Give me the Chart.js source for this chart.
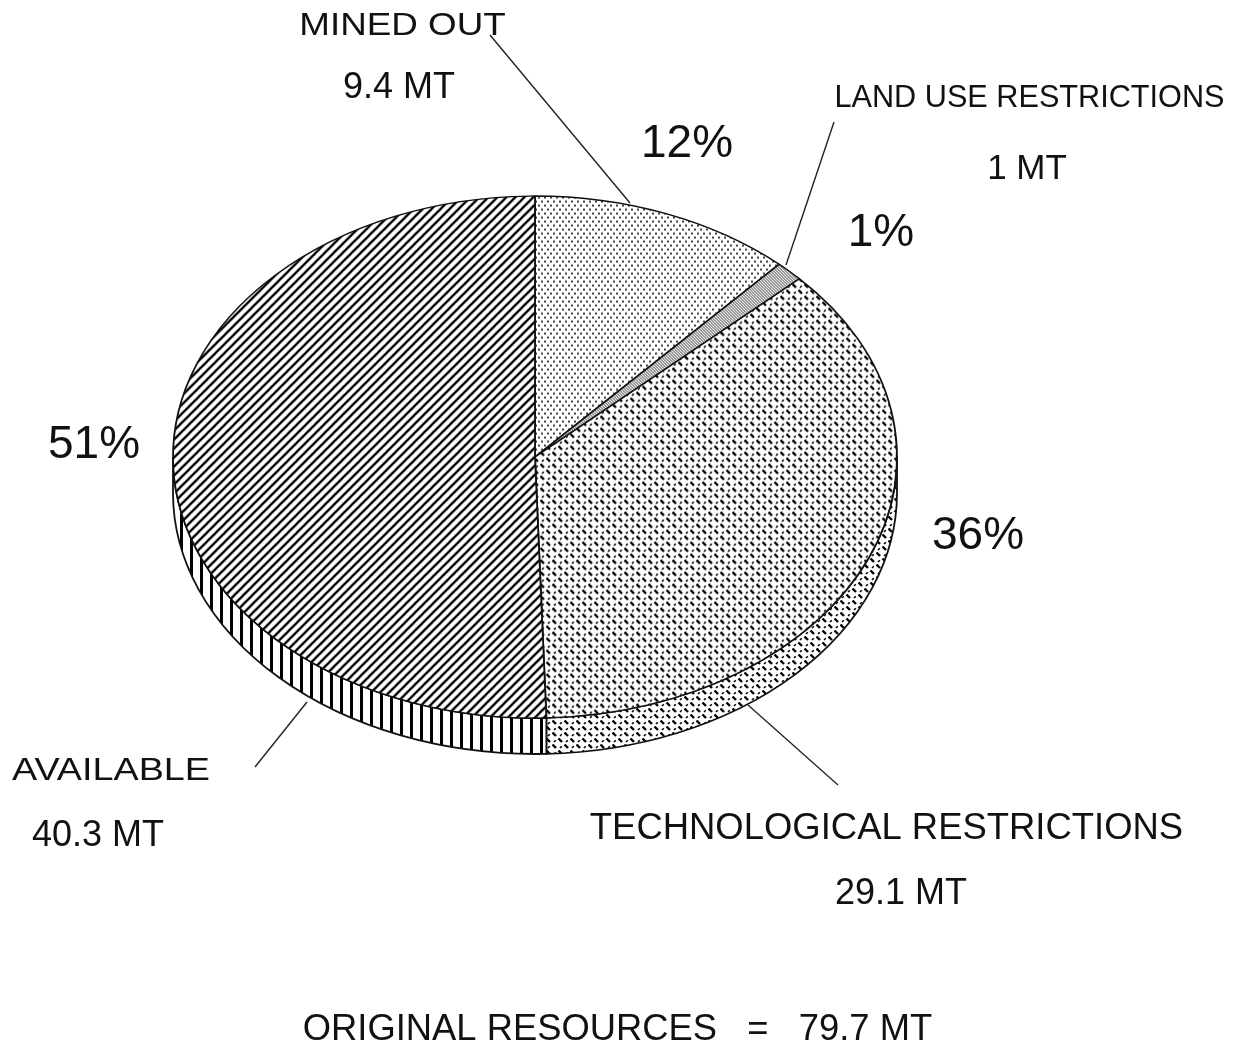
<!DOCTYPE html>
<html>
<head>
<meta charset="utf-8">
<style>html,body{margin:0;padding:0;background:#fff}canvas{display:block}</style>
<script src="https://cdn.jsdelivr.net/npm/chart.js@4"></script>
</head>
<body>
<div style="width:1234px;height:1045px"><canvas id="c" width="1234" height="1045"></canvas></div>
<script>
const categories = ["MINED OUT", "LAND USE RESTRICTIONS", "TECHNOLOGICAL RESTRICTIONS", "AVAILABLE"];
const valuesMT = [9.4, 1, 29.1, 40.3];
const amountLabels = ["9.4 MT", "1 MT", "29.1 MT", "40.3 MT"];
const percentLabels = ["12%", "1%", "36%", "51%"];
const footerText = "ORIGINAL RESOURCES   =   79.7 MT";

const squash = 0.721, radius = 362, depth = 36;
const ink = "#111";

function tile(w, h, draw) {
  const t = document.createElement("canvas"); t.width = w; t.height = h;
  const g = t.getContext("2d"); g.fillStyle = "#fff"; g.fillRect(0, 0, w, h);
  g.fillStyle = "#000"; g.strokeStyle = "#000"; draw(g);
  return t;
}
const ctx0 = document.getElementById("c").getContext("2d");
function pat(t, comp) {
  const p = ctx0.createPattern(t, "repeat");
  if (comp) p.setTransform(new DOMMatrix().scale(1, 1 / squash));
  return p;
}
const dotsTile = tile(6, 8, g => {
  g.fillStyle = "#444";
  g.fillRect(1, 1, 2, 2); g.fillRect(4, 5, 2, 2);
});
const stippleTile = tile(3, 3, g => {
  g.fillStyle = "#555";
  g.fillRect(0, 0, 1, 1); g.fillRect(1, 1, 1, 1); g.fillRect(2, 2, 1, 1);
  g.fillStyle = "#ccc"; g.fillRect(1, 0, 1, 1); g.fillRect(2, 1, 1, 1); g.fillRect(0, 2, 1, 1);
});
const weaveTile = tile(12, 12, g => {
  g.lineWidth = 2.4;
  [[0.5, 0.5, 4, 4], [6.5, 6.5, 10, 10]].forEach(s => {
    g.beginPath(); g.moveTo(s[0], s[1]); g.lineTo(s[2], s[3]); g.stroke();
  });
  g.lineWidth = 1.6;
  [[8, 4, 9.8, 2.2], [2, 10, 3.8, 8.2]].forEach(s => {
    g.beginPath(); g.moveTo(s[0], s[1]); g.lineTo(s[2], s[3]); g.stroke();
  });
});
const hatchTile = tile(9, 9, g => {
  g.lineWidth = 2.3;
  [[-2, 2, 2, -2], [-2, 11, 11, -2], [7, 11, 11, 7]].forEach(s => {
    g.beginPath(); g.moveTo(s[0], s[1]); g.lineTo(s[2], s[3]); g.stroke();
  });
});
const barsTile = tile(10, 4, g => { g.fillRect(0, 0, 3, 4); });

const sidePatterns = [pat(dotsTile), pat(stippleTile), pat(weaveTile), pat(barsTile)];

const leaders = [
  [490, 35, 630, 203], [834, 122, 786, 265], [838, 785, 748, 705], [255, 767, 307, 702]
];
/* [x, baseline, font size, horizontal stretch] */
const labelPlacement = [
  { name: [402.5, 35, 32, 1.15], amount: [399, 98, 36, 1], pct: [687, 157, 46, 1] },
  { name: [1029.5, 107, 32, 0.958], amount: [1027, 179, 35, 1], pct: [881, 246, 46, 1] },
  { name: [886.5, 839, 37, 0.985], amount: [901, 904, 36, 1], pct: [978, 549, 46, 1] },
  { name: [111, 780, 32, 1.18], amount: [98, 846, 36, 1], pct: [94, 458, 46, 1] }
];
const footerPlacement = [617.5, 1040, 36, 1.01];

const piePlugin = {
  id: "tiltedPie",
  beforeDatasetsDraw(chart) {
    const c = chart.ctx, arcs = chart.getDatasetMeta(0).data;
    const cx = arcs[0].x, cy = arcs[0].y, r = arcs[0].outerRadius;
    c.save();
    arcs.forEach((a, i) => {
      const a0 = Math.max(a.startAngle, 0), a1 = Math.min(a.endAngle, Math.PI);
      if (a1 <= a0) return;
      c.beginPath();
      c.ellipse(cx, cy, r, r * squash, 0, a0, a1);
      c.ellipse(cx, cy + depth, r, r * squash, 0, a1, a0, true);
      c.closePath();
      c.fillStyle = sidePatterns[i];
      c.fill();
      c.lineWidth = 1.8; c.strokeStyle = ink; c.stroke();
    });
    c.restore();
    c.save();
    c.translate(cx, cy); c.scale(1, squash); c.translate(-cx, -cy);
  },
  afterDatasetsDraw(chart) { chart.ctx.restore(); },
  afterDraw(chart) {
    const c = chart.ctx;
    c.save();
    c.strokeStyle = "#222"; c.lineWidth = 1.4;
    leaders.forEach(l => { c.beginPath(); c.moveTo(l[0], l[1]); c.lineTo(l[2], l[3]); c.stroke(); });
    c.fillStyle = ink; c.textAlign = "center"; c.textBaseline = "alphabetic";
    const put = (s, p) => {
      c.save();
      c.translate(p[0], p[1]); c.scale(p[3], 1);
      c.font = p[2] + 'px "Liberation Sans"';
      c.fillText(s, 0, 0);
      c.restore();
    };
    categories.forEach((n, i) => {
      put(n, labelPlacement[i].name);
      put(amountLabels[i], labelPlacement[i].amount);
      put(percentLabels[i], labelPlacement[i].pct);
    });
    put(footerText, footerPlacement);
    c.restore();
  }
};

new Chart(ctx0, {
  type: "pie",
  data: {
    labels: categories,
    datasets: [{
      data: valuesMT,
      backgroundColor: [pat(dotsTile, true), pat(stippleTile, true), pat(weaveTile, true), pat(hatchTile, true)],
      borderColor: ink,
      borderWidth: 1.8,
      clip: false
    }]
  },
  options: {
    responsive: false,
    animation: false,
    radius: radius,
    layout: { padding: { left: 0, right: 164, top: 0, bottom: 131 } },
    plugins: { legend: { display: false }, tooltip: { enabled: false } },
    elements: { arc: { borderAlign: "center" } }
  },
  plugins: [piePlugin]
});
</script>
</body>
</html>
